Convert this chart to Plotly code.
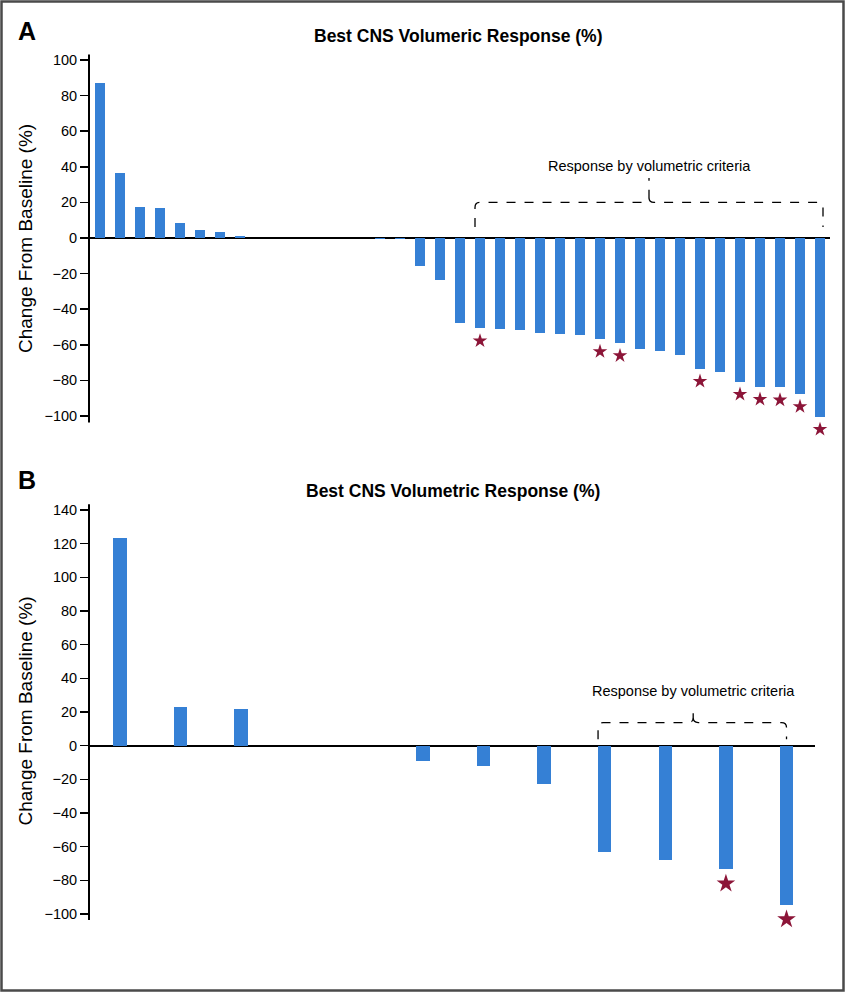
import plotly.graph_objects as go

# ---------------- data ----------------
# Panel A: best CNS volumetric response per patient (%)
a_values = [87.1, 36.3, 17.6, 16.7, 8.2, 4.5, 3.5, 1.3,
            0, 0, 0, 0, 0, 0,
            -0.6, -0.6, -15.7, -23.6, -47.9, -50.7, -51.1, -51.7, -53.2, -53.7,
            -54.7, -56.7, -59.0, -62.4, -63.3, -65.9, -73.4, -75.5, -80.7, -83.5,
            -83.9, -87.6, -100.4]
a_star = [19, 25, 26, 30, 32, 33, 34, 35, 36]          # patients marked with a star
a_ticks = [-100, -80, -60, -40, -20, 0, 20, 40, 60, 80, 100]

# Panel B
b_values = [123.2, 23.2, 22.0, 0, 0, -8.9, -12.2, -22.8, -63.0, -68.1, -73.5, -94.7]
b_star = [10, 11]
b_ticks = [-100, -80, -60, -40, -20, 0, 20, 40, 60, 80, 100, 120, 140]

title_a = "Best CNS Volumeric Response (%)"
title_b = "Best CNS Volumetric Response (%)"
ylab = "Change From Baseline (%)"
brace_label = "Response by volumetric criteria"

# ---------------- style ----------------
W, H = 846, 992
BLUE = "#3580D5"
STAR = "#8C1538"
FONT = "Liberation Sans, Arial, sans-serif"

fig = go.Figure()

a_x = list(range(len(a_values)))
b_x = list(range(len(b_values)))

a_star_y = [a_values[i] - 7.1 for i in a_star]
b_star_y = [b_values[i] - 8.4 for i in b_star]

fig.add_trace(go.Bar(x=a_x, y=a_values, width=0.47, marker=dict(color=BLUE, line=dict(width=0)),
                     xaxis="x", yaxis="y", hoverinfo="skip"))
fig.add_trace(go.Bar(x=b_x, y=b_values, width=0.22, marker=dict(color=BLUE, line=dict(width=0)),
                     xaxis="x2", yaxis="y2", hoverinfo="skip"))

# stars just below bar ends
fig.add_trace(go.Scatter(x=a_star, y=a_star_y, mode="markers",
                         marker=dict(symbol="star", size=11, color=STAR, line=dict(width=0)),
                         xaxis="x", yaxis="y", hoverinfo="skip"))
fig.add_trace(go.Scatter(x=b_star, y=b_star_y, mode="markers",
                         marker=dict(symbol="star", size=14, color=STAR, line=dict(width=0)),
                         xaxis="x2", yaxis="y2", hoverinfo="skip"))


def px2paper_y(py):
    return 1 - py / H


def px2paper_x(px):
    return px / W


# vertical geometry of each panel (pixels): zero line, scale, visible axis line extent
A_ZERO, A_SCALE, A_LTOP, A_LBOT = 238.0, 1.78, 54.5, 422.5
B_ZERO, B_SCALE, B_LTOP, B_LBOT = 745.7, 1.683, 504.3, 920.0
A_EXT = 440.0   # plotting area extends a bit below the axis line so the last star shows
B_EXT = 935.0


def val(zero, scale, py):
    return (zero - py) / scale


yaxis_common = dict(
    showline=False,
    ticks="outside", ticklen=8, tickwidth=1.5, tickcolor="black",
    tickfont=dict(family=FONT, size=14.5, color="black"),
    showgrid=False, zeroline=True, zerolinecolor="black", zerolinewidth=2,
    automargin=False, fixedrange=True,
)

fig.update_layout(
    width=W, height=H,
    margin=dict(l=0, r=0, t=0, b=0, autoexpand=False),
    paper_bgcolor="white", plot_bgcolor="rgba(0,0,0,0)",
    showlegend=False, bargap=0,
    xaxis=dict(domain=[px2paper_x(89), px2paper_x(830)], range=[-0.55, 36.5],
               visible=False, anchor="y", fixedrange=True),
    yaxis=dict(domain=[px2paper_y(A_EXT), px2paper_y(A_LTOP)],
               range=[val(A_ZERO, A_SCALE, A_EXT), val(A_ZERO, A_SCALE, A_LTOP)],
               tickvals=a_ticks, anchor="x", **yaxis_common),
    xaxis2=dict(domain=[px2paper_x(89), px2paper_x(815)], range=[-0.51, 11.47],
                visible=False, anchor="y2", fixedrange=True),
    yaxis2=dict(domain=[px2paper_y(B_EXT), px2paper_y(B_LTOP)],
                range=[val(B_ZERO, B_SCALE, B_EXT), val(B_ZERO, B_SCALE, B_LTOP)],
                tickvals=b_ticks, anchor="x2", **yaxis_common),
)

# y-axis lines (drawn as shapes so they stop just below -100)
fig.add_shape(type="line", xref="paper", yref="paper",
              x0=px2paper_x(89), x1=px2paper_x(89), y0=px2paper_y(A_LBOT), y1=px2paper_y(A_LTOP),
              line=dict(color="black", width=2))
fig.add_shape(type="line", xref="paper", yref="paper",
              x0=px2paper_x(89), x1=px2paper_x(89), y0=px2paper_y(B_LBOT), y1=px2paper_y(B_LTOP),
              line=dict(color="black", width=2))


def brace_path(xl, xr, xm, yline, yend, ytip, dx, dy):
    return (f"M {xl},{yend} L {xl},{yline - dy} Q {xl},{yline} {xl + dx},{yline} "
            f"L {xm - dx},{yline} Q {xm},{yline} {xm},{yline + dy} L {xm},{ytip} "
            f"M {xm},{yline + dy} Q {xm},{yline} {xm + dx},{yline} "
            f"L {xr - dx},{yline} Q {xr},{yline} {xr},{yline - dy} L {xr},{yend}")


fig.add_shape(type="path", xref="x", yref="y",
              path=brace_path(18.75, 36.15, 27.45, 20, 6.2, 33.7, 0.25, 2.8),
              line=dict(color="black", width=1.3, dash="dash"))
fig.add_shape(type="path", xref="x2", yref="y2",
              path=brace_path(7.89, 11.0, 9.46, 13.7, 3.8, 24.6, 0.083, 3.0),
              line=dict(color="black", width=1.3, dash="dash"))

# outer frame
fig.add_shape(type="rect", xref="paper", yref="paper",
              x0=1.5 / W, x1=1 - 2.5 / W, y0=1.5 / H, y1=1 - 1.5 / H,
              line=dict(color="#4a4a4a", width=2.5), fillcolor="rgba(0,0,0,0)")

ann = []
# panel letters
ann.append(dict(text="<b>A</b>", x=px2paper_x(16), y=px2paper_y(31), xref="paper", yref="paper",
                xanchor="left", yanchor="middle", showarrow=False,
                font=dict(family=FONT, size=25, color="black")))
ann.append(dict(text="<b>B</b>", x=px2paper_x(16), y=px2paper_y(480), xref="paper", yref="paper",
                xanchor="left", yanchor="middle", showarrow=False,
                font=dict(family=FONT, size=25, color="black")))
# titles
ann.append(dict(text=f"<b>{title_a}</b>", x=px2paper_x(459), y=px2paper_y(36), xref="paper", yref="paper",
                xanchor="center", yanchor="middle", showarrow=False,
                font=dict(family=FONT, size=17.5, color="black")))
ann.append(dict(text=f"<b>{title_b}</b>", x=px2paper_x(453), y=px2paper_y(491), xref="paper", yref="paper",
                xanchor="center", yanchor="middle", showarrow=False,
                font=dict(family=FONT, size=17.5, color="black")))
# y-axis titles
ann.append(dict(text=ylab, x=px2paper_x(25), y=px2paper_y(239), xref="paper", yref="paper",
                xanchor="center", yanchor="middle", textangle=-90, showarrow=False,
                font=dict(family=FONT, size=19, color="black")))
ann.append(dict(text=ylab, x=px2paper_x(25), y=px2paper_y(711.5), xref="paper", yref="paper",
                xanchor="center", yanchor="middle", textangle=-90, showarrow=False,
                font=dict(family=FONT, size=19, color="black")))
# brace labels
ann.append(dict(text=brace_label, x=27.45, y=40.4, xref="x", yref="y",
                xanchor="center", yanchor="middle", showarrow=False,
                font=dict(family=FONT, size=14.5, color="black")))
ann.append(dict(text=brace_label, x=9.46, y=32.7, xref="x2", yref="y2",
                xanchor="center", yanchor="middle", showarrow=False,
                font=dict(family=FONT, size=14.5, color="black")))
fig.update_layout(annotations=ann)

fig.write_html("out.html", config={"displayModeBar": False, "staticPlot": True},
               post_script="document.body.style.margin='0';document.body.style.overflow='hidden';")
